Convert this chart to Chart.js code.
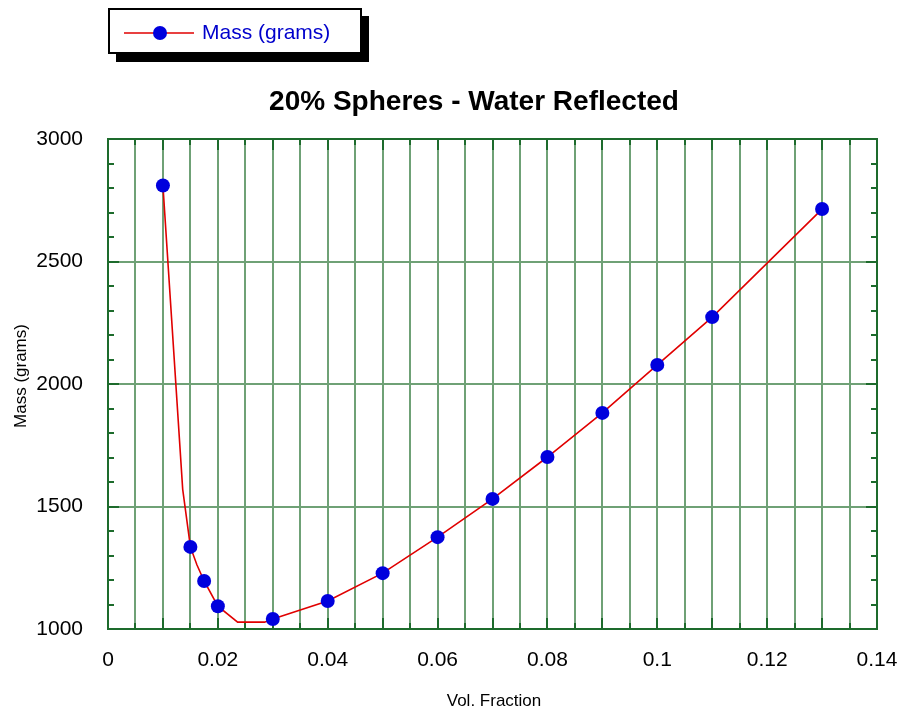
<!DOCTYPE html>
<html>
<head>
<meta charset="utf-8">
<script src="https://cdn.jsdelivr.net/npm/chart.js@4.4.0/dist/chart.umd.min.js"></script>
<style>
  html, body { margin: 0; padding: 0; background: #fff; }
  #wrap { width: 903px; height: 715px; }
</style>
</head>
<body>
<div id="wrap"><canvas id="chart" width="903" height="715"></canvas></div>
<script>
// Data points (markers)
const volFraction = [0.01, 0.015, 0.0175, 0.02, 0.03, 0.04, 0.05, 0.06, 0.07, 0.08, 0.09, 0.10, 0.11, 0.13];
const massGrams = [2810, 1335, 1196, 1093, 1041, 1114, 1228, 1375, 1531, 1702, 1882, 2078, 2273, 2714];

// Red fitted line, nodes (it sags below the points near 0.025)
const curveVol = [0.01, 0.0136, 0.015, 0.0162, 0.0175, 0.02, 0.0236, 0.0285, 0.03, 0.04, 0.05, 0.06, 0.07, 0.08, 0.09, 0.10, 0.11, 0.13];
const curveMass = [2810, 1570, 1335, 1261, 1196, 1093, 1028, 1028, 1041, 1114, 1228, 1375, 1531, 1702, 1882, 2078, 2273, 2714];

const xLabels = ['0', '0.02', '0.04', '0.06', '0.08', '0.1', '0.12', '0.14'];
const yLabels = ['1000', '1500', '2000', '2500', '3000'];

const FONT = "'Liberation Sans', Arial, sans-serif";
const AXIS_GREEN = '#1d6b2c';
const GRID_GREEN = '#6fa176';

const toPoints = (xs, ys) => xs.map((x, i) => ({ x: x, y: ys[i] }));

// frame, inward ticks, titles and the boxed legend
const decor = {
  id: 'decor',
  beforeDatasetsDraw(chart) {
    const { ctx, chartArea: a, scales } = chart;
    const xs = scales.x, ys = scales.y;
    ctx.save();
    ctx.strokeStyle = AXIS_GREEN;
    ctx.lineWidth = 2;
    ctx.strokeRect(a.left, a.top, a.right - a.left, a.bottom - a.top);

    ctx.beginPath();
    // x ticks every 0.005, longer at each 0.01
    for (let i = 0; i <= 28; i++) {
      const px = Math.round(xs.getPixelForValue(i * 0.005));
      const len = i % 2 === 0 ? 11 : 6;
      ctx.moveTo(px, a.bottom); ctx.lineTo(px, a.bottom - len);
      ctx.moveTo(px, a.top); ctx.lineTo(px, a.top + len);
    }
    // y ticks every 100, longer at each 500
    for (let v = 1000; v <= 3000; v += 100) {
      const py = Math.round(ys.getPixelForValue(v));
      const len = v % 500 === 0 ? 11 : 6;
      ctx.moveTo(a.left, py); ctx.lineTo(a.left + len, py);
      ctx.moveTo(a.right, py); ctx.lineTo(a.right - len, py);
    }
    ctx.stroke();
    ctx.restore();
  },
  afterDraw(chart) {
    const { ctx } = chart;
    ctx.save();
    ctx.fillStyle = '#000';
    ctx.textAlign = 'center';
    ctx.textBaseline = 'middle';

    // chart title
    ctx.font = 'bold 28px ' + FONT;
    ctx.fillText('20% Spheres - Water Reflected', 474, 102);

    // axis titles
    ctx.font = '17px ' + FONT;
    ctx.fillText('Vol. Fraction', 494, 701);
    ctx.save();
    ctx.translate(21, 376);
    ctx.rotate(-Math.PI / 2);
    ctx.fillText('Mass (grams)', 0, 0);
    ctx.restore();

    // legend box with shadow
    ctx.fillStyle = '#000';
    ctx.fillRect(116, 16, 253, 46);
    ctx.fillStyle = '#fff';
    ctx.fillRect(109, 9, 252, 44);
    ctx.strokeStyle = '#000';
    ctx.lineWidth = 2;
    ctx.strokeRect(109, 9, 252, 44);

    ctx.strokeStyle = '#e00000';
    ctx.lineWidth = 1.5;
    ctx.beginPath();
    ctx.moveTo(124, 33); ctx.lineTo(194, 33);
    ctx.stroke();
    ctx.fillStyle = '#0000dd';
    ctx.beginPath();
    ctx.arc(160, 33, 7, 0, Math.PI * 2);
    ctx.fill();

    ctx.font = '21px ' + FONT;
    ctx.textAlign = 'left';
    ctx.fillStyle = '#0000cc';
    ctx.fillText('Mass (grams)', 202, 33);
    ctx.restore();
  }
};

new Chart(document.getElementById('chart'), {
  type: 'scatter',
  data: {
    datasets: [
      {
        label: 'Mass (grams)',
        data: toPoints(volFraction, massGrams),
        showLine: false,
        pointRadius: 7,
        pointHoverRadius: 7,
        pointBackgroundColor: '#0000dd',
        pointBorderColor: '#0000dd',
        pointBorderWidth: 0
      },
      {
        label: 'fit',
        data: toPoints(curveVol, curveMass),
        showLine: true,
        borderColor: '#e00000',
        borderWidth: 1.6,
        pointRadius: 0,
        tension: 0
      }
    ]
  },
  options: {
    responsive: false,
    devicePixelRatio: 1,
    animation: false,
    events: [],
    layout: { padding: { top: 139, right: 26, left: 0, bottom: 0 } },
    plugins: {
      legend: { display: false },
      title: { display: false },
      tooltip: { enabled: false }
    },
    scales: {
      x: {
        type: 'linear',
        min: 0,
        max: 0.14,
        afterFit: (s) => { s.height = 86; s.paddingLeft = 0; s.paddingRight = 0; },
        border: { display: false },
        grid: {
          color: GRID_GREEN,
          lineWidth: 2,
          drawTicks: false
        },
        ticks: {
          stepSize: 0.005,
          autoSkip: false,
          maxRotation: 0,
          padding: 19,
          color: '#000',
          font: { family: FONT, size: 21 },
          callback: (v) => {
            const k = Math.round(v * 1000);
            return k % 20 === 0 ? xLabels[k / 20] : '';
          }
        }
      },
      y: {
        min: 1000,
        max: 3000,
        afterFit: (s) => { s.width = 108; s.paddingTop = 0; s.paddingBottom = 0; },
        border: { display: false },
        grid: {
          color: GRID_GREEN,
          lineWidth: 2,
          drawTicks: false
        },
        ticks: {
          stepSize: 500,
          padding: 25,
          color: '#000',
          font: { family: FONT, size: 21 },
          callback: (v) => yLabels[Math.round((v - 1000) / 500)]
        }
      }
    }
  },
  plugins: [decor]
});
</script>
</body>
</html>
